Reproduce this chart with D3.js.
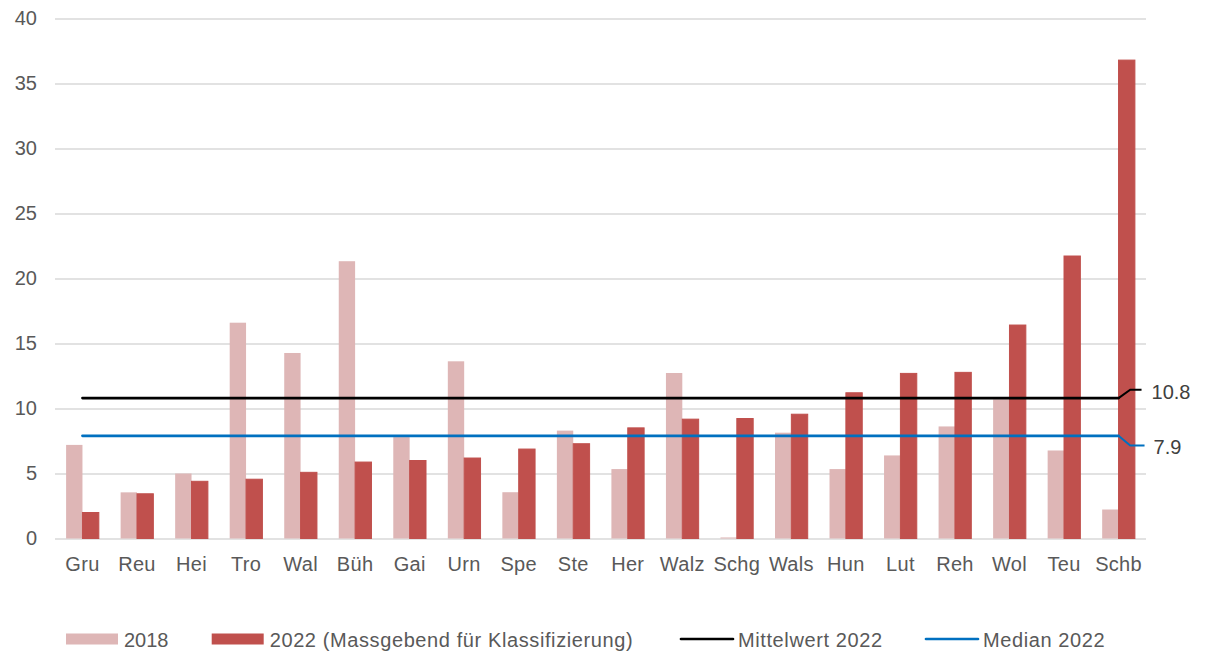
<!DOCTYPE html>
<html>
<head>
<meta charset="utf-8">
<script src="https://cdn.jsdelivr.net/npm/d3@7"></script>
<style>
  body { margin: 0; background: #fff; }
  svg { display: block; font-family: "Liberation Sans", Arial, sans-serif; }
  text { fill: #595959; font-size: 20px; }
</style>
</head>
<body>
<svg></svg>
<script>
const categories = ["Gru", "Reu", "Hei", "Tro", "Wal", "Büh", "Gai", "Urn", "Spe", "Ste",
                    "Her", "Walz", "Schg", "Wals", "Hun", "Lut", "Reh", "Wol", "Teu", "Schb"]
const values2018 = [7.2, 3.55, 5.0, 16.6, 14.27, 21.33, 7.8, 13.63, 3.56, 8.3,
                    5.34, 12.73, 0.08, 8.14, 5.34, 6.39, 8.62, 10.7, 6.77, 2.23]
const values2022 = [2.0, 3.44, 4.4, 4.56, 5.09, 5.88, 6.0, 6.19, 6.88, 7.29,
                    8.51, 9.18, 9.23, 9.56, 11.21, 12.7, 12.78, 16.42, 21.73, 36.8]
const mean2022 = 10.8,
      median2022 = 7.9
const yTicks = [0, 5, 10, 15, 20, 25, 30, 35, 40]
const seriesNames = ["2018", "2022 (Massgebend für Klassifizierung)", "Mittelwert 2022", "Median 2022"]

const width = 1205, height = 653
const colors = {pink: "#DEB6B6", red: "#C0504D", mean: "#000000", median: "#0070C0", grid: "#D9D9D9"}

const svg = d3.select("svg")
    .attr("width", width)
    .attr("height", height)

const x = d3.scaleBand()
    .domain(categories)
    .range([55.2, 1145.8])
    .paddingInner(0.4)
    .paddingOuter(0.2)

const xSub = d3.scaleBand()
    .domain(["2018", "2022"])
    .range([0, x.bandwidth()])

const y = d3.scaleLinear()
    .domain([0, 40])
    .range([538.5, 18.5])

const center = c => x(c) + x.bandwidth() / 2

// gridlines + y labels
const yAxis = svg.append("g")
    .attr("transform", "translate(55,0)")
    .call(d3.axisLeft(y).tickValues(yTicks).tickSize(-1091).tickPadding(18))
yAxis.select(".domain").remove()
yAxis.selectAll(".tick line").attr("stroke", colors.grid).attr("stroke-width", 1.5)
yAxis.selectAll(".tick text").attr("fill", "#595959").style("font-size", "20px")
    .attr("font-family", null)

// x labels
const xAxis = svg.append("g")
    .attr("transform", `translate(0,${y(0)})`)
    .call(d3.axisBottom(x).tickSize(0).tickPadding(18))
xAxis.select(".domain").remove()
xAxis.selectAll(".tick text").attr("fill", "#595959").style("font-size", "20px")
    .style("letter-spacing", "0.3px")
    .attr("font-family", null)

// bars
const rows = categories.map((c, i) => ({cat: c, v2018: values2018[i], v2022: values2022[i]}))

svg.append("g").selectAll("rect")
  .data(rows)
  .join("rect")
    .attr("x", d => x(d.cat) + xSub("2018"))
    .attr("y", d => y(d.v2018))
    .attr("width", xSub.bandwidth())
    .attr("height", d => y(0) - y(d.v2018))
    .attr("fill", colors.pink)

svg.append("g").selectAll("rect")
  .data(rows)
  .join("rect")
    .attr("x", d => x(d.cat) + xSub("2022"))
    .attr("y", d => y(d.v2022))
    .attr("width", xSub.bandwidth())
    .attr("height", d => y(0) - y(d.v2022))
    .attr("fill", colors.red)
    .attr("stroke", colors.red)
    .attr("stroke-width", 1)

// mean / median lines
const line = d3.line().x(d => center(d.cat)).y(d => y(d.v))

const refs = [
  {value: mean2022, color: colors.mean, dx1: 11.7, dy1: -8.3, dx2: 23, labelDx: 33, labelDy: -6.5},
  {value: median2022, color: colors.median, dx1: 11.7, dy1: 9.7, dx2: 26, labelDx: 35, labelDy: 10.7}
]

refs.forEach(r => {
  svg.append("path")
    .datum(categories.map(c => ({cat: c, v: r.value})))
    .attr("d", line)
    .attr("fill", "none")
    .attr("stroke", r.color)
    .attr("stroke-width", 2.7)
    .attr("stroke-linecap", "round")

  const x0 = center(categories[categories.length - 1]),
        y0 = y(r.value)
  svg.append("path")
    .attr("d", `M${x0},${y0}L${x0 + r.dx1},${y0 + r.dy1}H${x0 + r.dx2}`)
    .attr("fill", "none")
    .attr("stroke", r.color)
    .attr("stroke-width", 2)

  svg.append("text")
    .attr("x", x0 + r.labelDx)
    .attr("y", y0 + r.labelDy)
    .attr("dy", "0.35em")
    .style("fill", "#404040")
    .text(d3.format(".1f")(r.value))
})

// legend
const legend = svg.append("g")
const legendX = [66, 211.7, 680, 925]
seriesNames.forEach((name, i) => {
  const g = legend.append("g").attr("transform", `translate(${legendX[i]},639)`)
  if (i < 2) {
    g.append("rect").attr("x", 0).attr("y", -5.5).attr("width", 52).attr("height", 11)
      .attr("fill", i === 0 ? colors.pink : colors.red)
  } else {
    g.append("line").attr("x1", 1).attr("x2", 53).attr("y1", 0).attr("y2", 0)
      .attr("stroke", i === 2 ? colors.mean : colors.median)
      .attr("stroke-width", 2.7).attr("stroke-linecap", "round")
  }
  g.append("text").attr("x", 58).attr("y", 7.5)
    .style("letter-spacing", i === 0 ? "0px" : "0.6px")
    .text(name)
})
</script>
</body>
</html>
